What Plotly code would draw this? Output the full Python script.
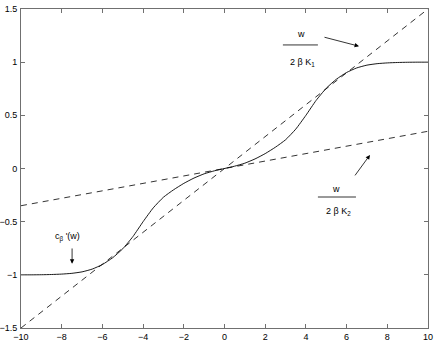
import plotly.graph_objects as go

# Data
w_pos = [0, 0.5, 1, 1.5, 2, 2.5, 3, 3.5, 4, 4.5, 5, 5.5, 6, 6.5, 7, 7.5, 8, 8.5, 9, 9.5, 10]
c_pos = [0, 0.022, 0.05, 0.09, 0.14, 0.20, 0.27, 0.37, 0.50, 0.64, 0.755, 0.84, 0.903, 0.946, 0.972, 0.986, 0.993, 0.997, 0.999, 1.0, 1.0]
w_vals = [-v for v in reversed(w_pos[1:])] + w_pos
c_vals = [-v for v in reversed(c_pos[1:])] + c_pos

line_x = [-10, 10]
k1_y = [-1.5, 1.5]
k2_y = [-0.35, 0.35]

x_ticks = [-10, -8, -6, -4, -2, 0, 2, 4, 6, 8, 10]
y_ticks = [-1.5, -1, -0.5, 0, 0.5, 1, 1.5]
y_tick_text = ["\u22121.5", "\u22121", "\u22120.5", "0", "0.5", "1", "1.5"]
x_tick_text = [("\u2212" + str(-t)) if t < 0 else str(t) for t in x_ticks]

fig = go.Figure()
fig.add_trace(go.Scatter(x=line_x, y=k1_y, mode="lines",
                         line=dict(color="black", width=0.8, dash="6px,5px")))
fig.add_trace(go.Scatter(x=line_x, y=k2_y, mode="lines",
                         line=dict(color="black", width=0.8, dash="6px,5px")))
fig.add_trace(go.Scatter(x=w_vals, y=c_vals, mode="lines",
                         line=dict(color="black", width=0.9, shape="spline", smoothing=0.5)))

font = dict(family="Liberation Sans, Arial, sans-serif", size=9, color="black")

anns = []
# K1 label
anns.append(dict(x=3.76, y=1.262, text="w", showarrow=False, font=font))
anns.append(dict(x=3.84, y=1.0, text="2 \u03b2 K<sub>1</sub>", showarrow=False, font=font))
# K2 label
anns.append(dict(x=5.5, y=-0.196, text="w", showarrow=False, font=font))
anns.append(dict(x=5.58, y=-0.405, text="2 \u03b2 K<sub>2</sub>", showarrow=False, font=font))
# c label
anns.append(dict(x=-7.72, y=-0.64, text="c<sub>\u03b2</sub> '(w)", showarrow=False, font=font))
# arrows
for (tx, ty, hx, hy) in [(4.84, 1.238, 6.61, 1.15), (6.36, -0.079, 7.15, 0.128), (-7.49, -0.738, -7.49, -0.895)]:
    anns.append(dict(x=hx, y=hy, ax=tx, ay=ty, xref="x", yref="y", axref="x", ayref="y",
                     text="", showarrow=True, arrowhead=2, arrowsize=1.1, arrowwidth=0.8,
                     arrowcolor="black"))
fig.update_layout(annotations=anns)

fig.add_shape(type="line", x0=2.87, x1=4.59, y0=1.162, y1=1.162, line=dict(color="black", width=0.8))
fig.add_shape(type="line", x0=4.59, x1=6.46, y0=-0.268, y1=-0.268, line=dict(color="black", width=0.8))

axis_common = dict(showgrid=False, zeroline=False, showline=True, linecolor="#707070", linewidth=1,
                   mirror="ticks", ticks="inside", ticklen=4, tickcolor="#707070", automargin=False,
                   tickfont=dict(family="Liberation Sans, Arial, sans-serif", size=9, color="black"))
fig.update_xaxes(range=[-10, 10], tickvals=x_ticks, ticktext=x_tick_text, ticklabelstandoff=0, **axis_common)
fig.update_yaxes(range=[-1.5, 1.5], tickvals=y_ticks, ticktext=y_tick_text, ticklabelstandoff=1, **axis_common)

fig.update_layout(width=436, height=343, margin=dict(l=21, r=8, t=9, b=15),
                  plot_bgcolor="white", paper_bgcolor="white", showlegend=False)

fig.write_html("out.html", config={"displayModeBar": False},
               post_script="document.body.style.margin='0';document.body.style.overflow='hidden';")
